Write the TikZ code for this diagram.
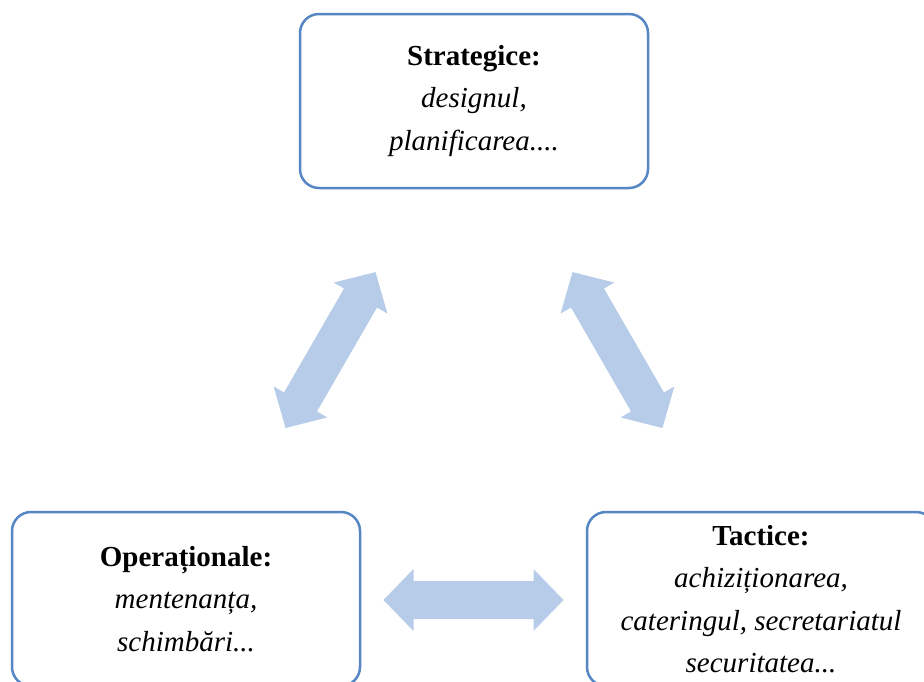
\documentclass[tikz,border=0pt]{standalone}
\usepackage{fontspec}
\setmainfont{Liberation Serif}
\definecolor{boxblue}{HTML}{5687C4}
\definecolor{arrowblue}{HTML}{B7CCE8}
\tikzset{
  box/.style={draw=boxblue, line width=2.5pt, rounded corners=19pt, fill=white,
    minimum width=348pt, minimum height=174pt, align=center, inner sep=0pt,
    font=\fontsize{29}{42.5}\selectfont},
  dblarrow/.pic={
    \fill[arrowblue] (-90,0) -- (-60,31) -- (-60,19) -- (60,19) -- (60,31) -- (90,0)
      -- (60,-31) -- (60,-19) -- (-60,-19) -- (-60,-31) -- cycle;
  }
}
\begin{document}
\begin{tikzpicture}[x=1pt,y=-1pt]
\clip (0,0) rectangle (924,681);
\fill[white] (0,0) rectangle (924,681);
\node[box] (strat) at (474,101) {\textbf{Strategice:}\\\textit{designul,}\\\textit{planificarea....}};
\node[box] (oper) at (186,599) {\textbf{Operaționale:}\\\textit{mentenanța,}\\\textit{schimbări...}};
\node[box] (tact) at (761,599) {\textbf{Tactice:}\\\textit{achiziționarea,}\\\textit{cateringul, secretariatul}\\\textit{securitatea...}};
\path (330.5,350) pic[rotate=60] {dblarrow};
\path (617.5,350) pic[rotate=-60] {dblarrow};
\path (473.5,600) pic {dblarrow};
\end{tikzpicture}
\end{document}
